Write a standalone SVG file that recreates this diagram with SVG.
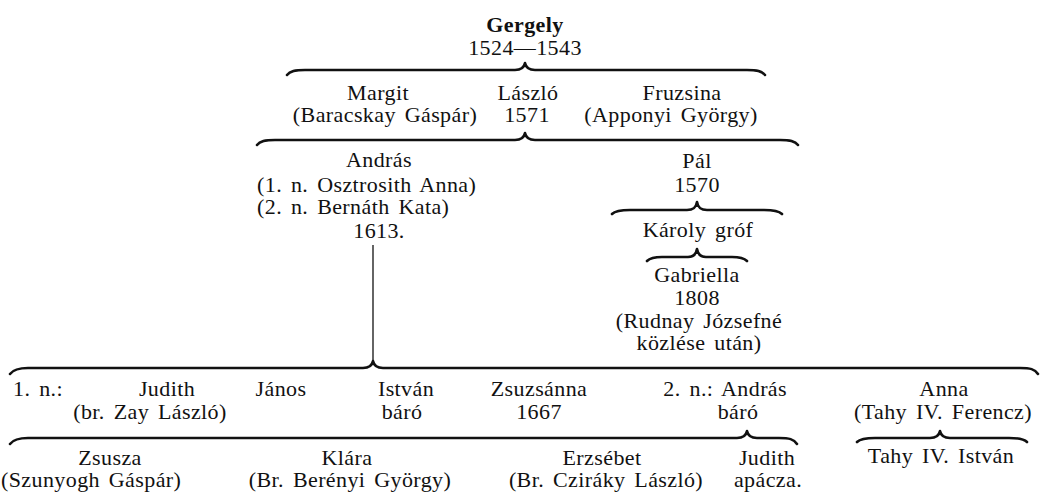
<svg xmlns="http://www.w3.org/2000/svg" width="1040" height="493" viewBox="0 0 1040 493">
<style>
text{font-family:"Liberation Serif","Times New Roman",serif;font-size:22px;fill:#111;text-anchor:middle;letter-spacing:0.4px;word-spacing:3px}
.s{text-anchor:start}
.e{text-anchor:end}
.b{font-weight:bold}
.br{fill:none;stroke:#111;stroke-width:2.6;stroke-linecap:round;stroke-linejoin:round}
.ln{fill:none;stroke:#111;stroke-width:1.3}
</style>
<rect width="1040" height="493" fill="#fff"/>
<g id="connectors">
<path class="br" d="M287,75 C290,71 295,70 305,70 L515,70 C521,70 524,68 525,63 C526,68 529,70 535,70 L747,70 C757,70 762,71 765,75"/>
<path class="br" d="M257,145 C260,141 265,140 275,140 L515,140 C521,140 524,138 525,133 C526,138 529,140 535,140 L780,140 C790,140 795,141 798,145"/>
<path class="br" d="M612,214 C615,211 620,210 630,210 L687,210 C693,210 696,208 697,202 C698,208 701,210 707,210 L764,210 C774,210 779,211 782,214"/>
<path class="br" d="M647,261 C650,258 655,257 662,257 L688,257 C693,257 696,255 697,249 C698,255 701,257 706,257 L732,257 C739,257 744,258 747,261"/>
<path class="ln" d="M373,245 L373,361"/>
<path class="br" d="M10,374 C13,370 18,368 28,368 L363,368 C369,368 372,366 373,361 C374,366 377,368 383,368 L1020,368 C1030,368 1035,369 1038,374"/>
<path class="br" d="M10,444 C13,440 18,438 28,438 L737,438 C743,438 746,436 747,431 C748,436 751,438 757,438 L779,438 C789,438 794,439 797,444"/>
<path class="br" d="M857,442 C860,439 865,438 875,438 L930,438 C936,438 939,436 940,431 C941,436 944,438 950,438 L1009,438 C1019,438 1024,439 1027,442"/>
</g>
<g id="gergely"><text class="b" x="525" y="32">Gergely</text><text x="525" y="55">1524—1543</text></g>
<g id="margit"><text x="378" y="100">Margit</text><text x="385" y="122">(Baracskay Gáspár)</text></g>
<g id="laszlo"><text x="528" y="100">László</text><text x="527" y="122">1571</text></g>
<g id="fruzsina"><text x="682" y="100">Fruzsina</text><text x="671" y="122">(Apponyi György)</text></g>
<g id="andras"><text x="379" y="167">András</text><text class="s" x="257" y="192">(1. n. Osztrosith Anna)</text><text class="s" x="257" y="214">(2. n. Bernáth Kata)</text><text x="379" y="238">1613.</text></g>
<g id="pal"><text x="697" y="168">Pál</text><text x="697" y="192">1570</text></g>
<g id="karoly"><text x="698" y="237">Károly gróf</text></g>
<g id="gabriella"><text x="697" y="282">Gabriella</text><text x="697" y="305">1808</text><text x="699" y="328">(Rudnay Józsefné</text><text x="699" y="350">közlése után)</text></g>
<g id="judith1"><text class="s" x="13" y="396">1. n.:</text><text x="167" y="396">Judith</text><text x="150" y="419">(br. Zay László)</text></g>
<g id="janos"><text x="281" y="396">János</text></g>
<g id="istvan"><text x="406" y="396">István</text><text x="402" y="419">báró</text></g>
<g id="zsuzsanna"><text x="539" y="396">Zsuzsánna</text><text x="539" y="419">1667</text></g>
<g id="andras2"><text class="e" x="787" y="396">2. n.: András</text><text x="738" y="419">báró</text></g>
<g id="anna"><text x="944" y="396">Anna</text><text x="943" y="419">(Tahy IV. Ferencz)</text></g>
<g id="zsusza"><text x="110" y="465">Zsusza</text><text class="s" x="1" y="487">(Szunyogh Gáspár)</text></g>
<g id="klara"><text x="347" y="465">Klára</text><text x="350" y="487">(Br. Berényi György)</text></g>
<g id="erzsebet"><text x="602" y="465">Erzsébet</text><text x="606" y="487">(Br. Cziráky László)</text></g>
<g id="judith2"><text x="767" y="465">Judith</text><text x="768" y="487">apácza.</text></g>
<g id="tahy"><text x="941" y="463">Tahy IV. István</text></g>
</svg>
